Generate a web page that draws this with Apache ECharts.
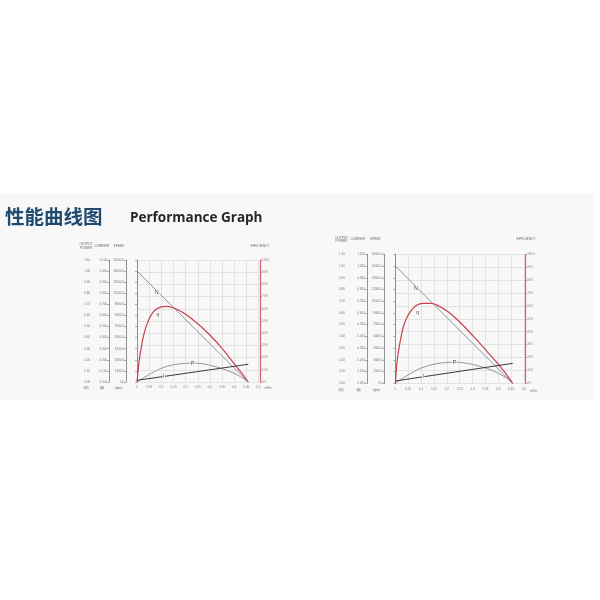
<!DOCTYPE html>
<html><head><meta charset="utf-8">
<script src="https://cdn.jsdelivr.net/npm/echarts@6/dist/echarts.min.js"></script>
<style>html,body{margin:0;padding:0;background:#fff}#c{width:600px;height:600px}</style>
</head><body><div id="c"></div>
<script>
// ---------- data ----------
// Left graph
const leftSpeedTorque = [0, 0.458];
const leftSpeed = [14000, 0];
const leftEffTorque = [0, 0.005, 0.01, 0.02, 0.03, 0.045, 0.06, 0.08, 0.1, 0.12, 0.14, 0.17, 0.2, 0.23, 0.26, 0.3, 0.35, 0.4, 0.43, 0.458];
const leftEff = [0, 10, 19, 31, 40.5, 49.5, 55.5, 59.8, 61.6, 62, 61.5, 59, 55.5, 51, 46, 38.5, 27.5, 15, 7.5, 0];
const leftPowerTorque = [0, 0.03, 0.06, 0.1, 0.15, 0.2, 0.23, 0.27, 0.32, 0.37, 0.42, 0.458];
const leftPower = [0, 0.042, 0.08, 0.123, 0.155, 0.168, 0.17, 0.164, 0.14, 0.105, 0.055, 0];
const leftCurrentTorque = [0, 0.458];
const leftCurrent = [0.015, 0.16];
const leftSpeedMax = 15400, leftSpeedStep = 1400;

// Right graph
const rightSpeedTorque = [0, 0.456];
const rightSpeed = [15000, 0];
const rightEffTorque = [0, 0.005, 0.012, 0.024, 0.037, 0.056, 0.082, 0.108, 0.14, 0.16, 0.205, 0.25, 0.303, 0.355, 0.407, 0.43, 0.456];
const rightEff = [0, 14, 25, 38, 47.5, 55, 60.5, 62, 62, 60.8, 55.5, 47.5, 36.5, 25, 13.2, 7.3, 0];
const rightPowerTorque = [0, 0.03, 0.06, 0.1, 0.15, 0.2, 0.227, 0.27, 0.32, 0.37, 0.42, 0.456];
const rightPower = [0, 0.045, 0.085, 0.13, 0.163, 0.178, 0.18, 0.173, 0.15, 0.115, 0.062, 0];
const rightCurrentTorque = [0, 0.456];
const rightCurrent = [0.02, 0.17];
const rightSpeedMax = 16500, rightSpeedStep = 1500;

// shared axes
const torqueMax = 0.5, torqueStep = 0.05;
const powerMax = 1.1, powerStep = 0.1;
const currentMax = 1.1, currentStep = 0.1;
const effMax = 100, effStep = 10;
const curveNames = ['N', 'η', 'P', 'I'];
const axisTitles = ['OUTPUT\nPOWER', 'CURRENT', 'SPEED', 'EFFICIENCY'];
const axisUnits = ['(W)', '(A)', '(rpm)'];
const torqueUnit = 'mNm';
const leftLabelAt = [[0.082, 11300], [0.086, 55], [0.229, 0.17], [0.11, 0.05]];
const rightLabelAt = [[0.08, 12100], [0.086, 55], [0.229, 0.179], [0.108, 0.056]];

// ---------- build ----------
const bandColor = '#f8f8f8';
const zip = (a, b) => a.map((v, i) => [v, b[i]]);
const FONT = 'Liberation Sans';

function parts(k, L, D) {
  const b = k * 4;
  const grid = {left: L.left, top: L.top, width: L.width, height: L.height, show: false, containLabel: false, outerBoundsMode: 'none'};
  const xAxis = {
    type: 'value', gridIndex: k, min: 0, max: torqueMax, interval: torqueStep,
    name: torqueUnit, nameLocation: 'end', nameGap: 5,
    nameTextStyle: {fontSize: 3, color: '#777', fontFamily: FONT, align: 'left', verticalAlign: 'top', padding: [L.xNameDy, 0, 0, 0]},
    axisLine: {show: false}, axisTick: {show: false},
    axisLabel: {fontSize: 3, color: '#777', fontFamily: FONT, margin: 4},
    splitLine: {show: true, lineStyle: {color: '#e3e3e3', width: 1}}
  };
  const ax = (off, max, step, fmt) => ({
    type: 'value', gridIndex: k, position: 'left', offset: off, min: 0, max: max, interval: step,
    axisLine: {show: true, lineStyle: {color: '#777', width: 0.8}},
    axisTick: {show: true, length: 2, lineStyle: {color: '#777', width: 0.6}},
    axisLabel: {fontSize: 3, color: '#777', fontFamily: FONT, margin: 2, formatter: fmt},
    splitLine: {show: false}
  });
  const yAxes = [
    ax(L.offs[0], powerMax, powerStep, v => v.toFixed(2)),
    ax(L.offs[1], currentMax, currentStep, v => v.toFixed(3)),
    ax(L.offs[2], D.speedMax, D.speedStep, v => v.toFixed(1)),
    {
      type: 'value', gridIndex: k, position: 'right', offset: L.effOff, min: 0, max: effMax, interval: effStep,
      axisLine: {show: true, lineStyle: {color: '#d2606e', width: 1.2}},
      axisTick: {show: true, length: 2, lineStyle: {color: '#d2606e', width: 0.6}},
      axisLabel: {fontSize: 3, color: '#a07c80', fontFamily: FONT, margin: 2, formatter: v => v + '%'},
      splitLine: {show: true, lineStyle: {color: '#e3e3e3', width: 1}}
    }
  ];
  const lbl = (i) => ({
    symbol: 'rect', symbolSize: 0, silent: true,
    data: [{coord: D.labelAt[i], label: {show: true, position: 'inside', formatter: curveNames[i], fontSize: 5, color: '#333', fontFamily: FONT, backgroundColor: bandColor, padding: [0, 0.6]}}]
  });
  const line = (name, data, yIdx, color, width, smooth, li) => ({
    type: 'line', name: name, xAxisIndex: k, yAxisIndex: b + yIdx, data: data, smooth: smooth,
    showSymbol: false, symbol: 'none', lineStyle: {color: color, width: width}, z: 3,
    markPoint: lbl(li)
  });
  const series = [
    line('N', zip(D.speedTorque, D.speed), 2, '#7b8b98', 0.9, false, 0),
    line('η', zip(D.effTorque, D.eff), 3, '#c8414c', 1.2, 0.4, 1),
    line('P', zip(D.powerTorque, D.power), 0, '#8a8a8a', 0.9, 0.4, 2),
    line('I', zip(D.currentTorque, D.current), 1, '#3a3a3a', 1, false, 3)
  ];
  const txt = (s, x, y, align) => ({type: 'text', x: x, y: y, silent: true,
    style: {text: s, fontSize: 3.2, lineHeight: 3.6, fontFamily: FONT, fill: '#666', align: align || 'center', verticalAlign: 'middle'}});
  const graphics = [
    txt(axisTitles[0], L.titleX[0], L.titleY), txt(axisTitles[1], L.titleX[1], L.titleY),
    txt(axisTitles[2], L.titleX[2], L.titleY), txt(axisTitles[3], L.titleX[3], L.titleY),
    txt(axisUnits[0], L.unitX[0], L.unitY), txt(axisUnits[1], L.unitX[1], L.unitY), txt(axisUnits[2], L.unitX[2], L.unitY)
  ];
  return {grid, xAxis, yAxes, series, graphics};
}

const A = parts(0,
  {left: 137, top: 260, width: 121.5, height: 122, offs: [45, 28, 11], effOff: 1.5, xNameDy: 5,
   titleX: [86, 102, 119, 260], titleY: 246, unitX: [86, 102, 118.5], unitY: 388},
  {speedTorque: leftSpeedTorque, speed: leftSpeed, effTorque: leftEffTorque, eff: leftEff,
   powerTorque: leftPowerTorque, power: leftPower, currentTorque: leftCurrentTorque, current: leftCurrent,
   speedMax: leftSpeedMax, speedStep: leftSpeedStep, labelAt: leftLabelAt});
const B = parts(1,
  {left: 395.4, top: 254.3, width: 128.6, height: 129, offs: [48.5, 28.5, 11], effOff: 1.2, xNameDy: 6,
   titleX: [341.5, 358, 375.5, 526], titleY: 239.5, unitX: [341, 358.5, 376.5], unitY: 390},
  {speedTorque: rightSpeedTorque, speed: rightSpeed, effTorque: rightEffTorque, eff: rightEff,
   powerTorque: rightPowerTorque, power: rightPower, currentTorque: rightCurrentTorque, current: rightCurrent,
   speedMax: rightSpeedMax, speedStep: rightSpeedStep, labelAt: rightLabelAt});

const option = {
  animation: false,
  backgroundColor: '#ffffff',
  graphic: [
    {type: 'rect', z: -10, silent: true, shape: {x: 0, y: 193, width: 594, height: 207}, style: {fill: bandColor}},
    {type: 'text', x: 5, y: 217, silent: true, style: {text: '性能曲线图', fontSize: 19.5, fontWeight: 'bold', fontFamily: 'Noto Sans CJK SC', fill: '#1f4a70', verticalAlign: 'middle'}},
    {type: 'text', x: 130, y: 218, silent: true, style: {text: 'Performance Graph', fontSize: 13.5, fontWeight: 'bold', fontFamily: 'Open Sans', fill: '#262626', verticalAlign: 'middle'}}
  ].concat(A.graphics, B.graphics),
  grid: [A.grid, B.grid],
  xAxis: [A.xAxis, B.xAxis],
  yAxis: A.yAxes.concat(B.yAxes),
  series: A.series.concat(B.series)
};
const chart = echarts.init(document.getElementById('c'), null, {renderer: 'canvas'});
chart.setOption(option);
</script>
</body></html>
